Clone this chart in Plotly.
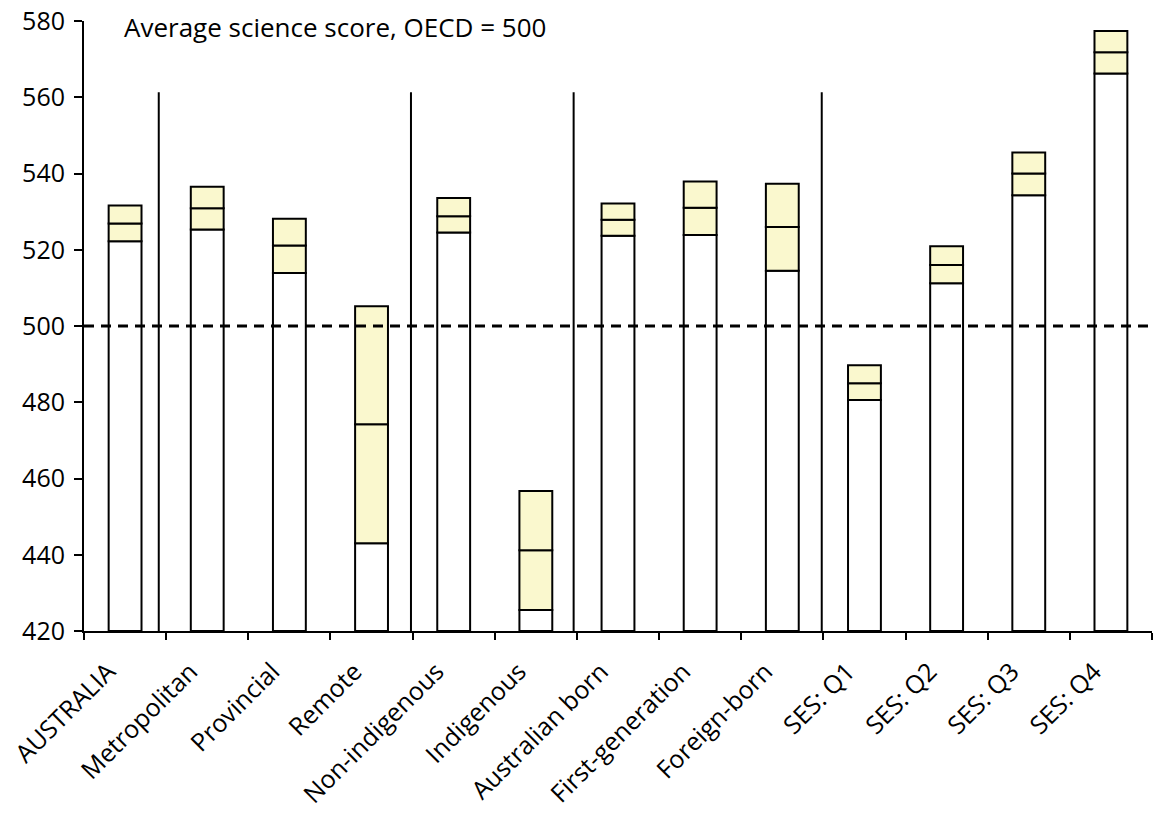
import plotly.graph_objects as go

# PISA science scores by student group: lower bound, mean, upper bound of 95% CI
categories = ["AUSTRALIA", "Metropolitan", "Provincial", "Remote", "Non-indigenous",
              "Indigenous", "Australian born", "First-generation", "Foreign-born",
              "SES: Q1", "SES: Q2", "SES: Q3", "SES: Q4"]
lower = [522.2, 525.3, 513.9, 443.0, 524.5, 425.5, 523.7, 523.9, 514.5, 480.6, 511.2, 534.3, 566.2]
mean = [526.9, 530.9, 521.1, 474.2, 528.8, 441.2, 527.9, 531.0, 526.0, 485.0, 516.0, 540.0, 571.8]
upper = [531.6, 536.5, 528.1, 505.2, 533.6, 456.7, 532.1, 537.9, 537.3, 489.7, 520.9, 545.5, 577.4]

oecd_avg = 500
y_min, y_max = 420, 580
y_ticks = [420, 440, 460, 480, 500, 520, 540, 560, 580]
# group dividers (category-index coordinates) and their top value
dividers = [0.41, 3.48, 5.46, 8.48]
divider_top = 561.3

FILL = "rgb(250,248,206)"
FONT = "Open Sans"

x = list(range(len(categories)))
bw = 0.4
outline = dict(color="black", width=2)

fig = go.Figure()
# white part of each column: axis floor up to lower bound
fig.add_trace(go.Bar(x=x, y=[l - y_min for l in lower], base=[y_min] * len(x), width=bw,
                     marker=dict(color="white", line=outline), hoverinfo="skip"))
# lower half of the confidence band
fig.add_trace(go.Bar(x=x, y=[m - l for m, l in zip(mean, lower)], base=lower, width=bw,
                     marker=dict(color=FILL, line=outline), hoverinfo="skip"))
# upper half of the confidence band
fig.add_trace(go.Bar(x=x, y=[u - m for u, m in zip(upper, mean)], base=mean, width=bw,
                     marker=dict(color=FILL, line=outline), hoverinfo="skip"))

shapes = [dict(type="line", xref="x", yref="y", x0=d, x1=d, y0=y_min, y1=divider_top,
               line=dict(color="black", width=2)) for d in dividers]
shapes.append(dict(type="line", xref="paper", yref="y", x0=0, x1=1, y0=oecd_avg, y1=oecd_avg,
                   line=dict(color="black", width=3, dash="10px,7px"), layer="above"))

fig.update_layout(
    width=1153, height=814,
    margin=dict(l=84, r=1, t=21, b=183),
    paper_bgcolor="white", plot_bgcolor="white",
    barmode="overlay", showlegend=False,
    font=dict(family=FONT, size=25, color="black"),
    shapes=shapes,
    xaxis=dict(
        range=[-0.5, len(categories) - 0.5], automargin=False,
        tickmode="array", tickvals=x, ticktext=categories,
        tickangle=-45, ticks="", showgrid=False, zeroline=False,
        showline=True, linecolor="black", linewidth=2,
        tickfont=dict(family=FONT, size=25),
        ticklabelshift=-17, ticklabelstandoff=14,
        minor=dict(tickmode="array", tickvals=[i - 0.5 for i in range(len(categories) + 1)],
                   ticks="outside", ticklen=7, tickwidth=2, tickcolor="black", showgrid=False),
    ),
    yaxis=dict(
        range=[y_min, y_max], tickmode="array", tickvals=y_ticks, automargin=False,
        ticks="outside", ticklen=8, tickwidth=2, tickcolor="black",
        showgrid=False, zeroline=False,
        showline=True, linecolor="black", linewidth=2,
        tickfont=dict(family=FONT, size=25), ticklabelstandoff=4,
    ),
    annotations=[dict(text="Average science score, OECD = 500", xref="paper", yref="paper",
                      x=0.036, y=1.0, xanchor="left", yanchor="middle", yshift=-6,
                      showarrow=False, font=dict(family=FONT, size=26))],
)

fig.write_html("out.html")
